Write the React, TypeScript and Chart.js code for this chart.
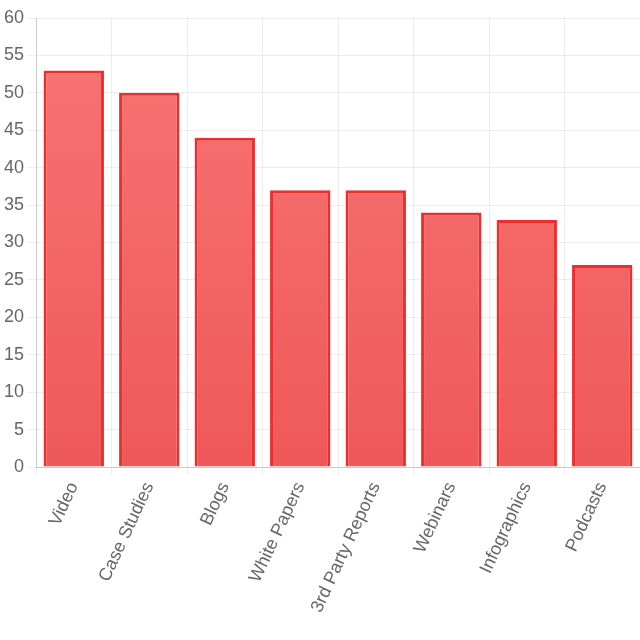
import React, { useEffect, useRef } from "react";
import { Chart, registerables } from "chart.js";

Chart.register(...registerables);

const categories = ["Video", "Case Studies", "Blogs", "White Papers", "3rd Party Reports", "Webinars", "Infographics", "Podcasts"];
const values = [53, 50, 44, 37, 37, 34, 33, 27];
const yMin = 0;
const yMax = 60;
const yStep = 5;

export default function App() {
  const ref = useRef<HTMLCanvasElement | null>(null);
  useEffect(() => {
    document.body.style.margin = "0";
    const canvas = ref.current!;
    const chart = new Chart(canvas, {
      type: "bar",
      data: {
        labels: categories,
        datasets: [
          {
            data: values,
            backgroundColor: (ctx: any) => {
              const area = ctx.chart.chartArea;
              if (!area) return "#F46666";
              const g = ctx.chart.ctx.createLinearGradient(0, area.top, 0, area.bottom);
              g.addColorStop(0, "#F87575");
              g.addColorStop(1, "#EF5858");
              return g;
            },
            borderColor: "#EE2D2D",
            borderWidth: 3,
            barPercentage: 1,
            categoryPercentage: 0.8,
          },
        ],
      },
      options: {
        animation: false,
        responsive: true,
        maintainAspectRatio: false,
        layout: { padding: { top: 18, left: 0, right: 0, bottom: 20 } },
        plugins: { legend: { display: false }, tooltip: { enabled: false } },
        scales: {
          x: {
            grid: { color: "rgba(0,0,0,0.07)", offset: true, tickLength: 8 },
            border: { color: "rgba(0,0,0,0.15)" },
            ticks: {
              color: "#666",
              padding: 4,
              font: { family: "Liberation Sans, Arial, sans-serif", size: 18 },
              maxRotation: 65,
              minRotation: 65,
            },
          },
          y: {
            min: yMin,
            max: yMax,
            grid: { color: "rgba(0,0,0,0.07)", tickLength: 8 },
            border: { color: "rgba(0,0,0,0.15)" },
            ticks: {
              stepSize: yStep,
              color: "#666",
              padding: 4,
              font: { family: "Liberation Sans, Arial, sans-serif", size: 18 },
            },
          },
        },
      },
    });
    return () => chart.destroy();
  }, []);
  return (
    <div style={{ width: 640, height: 640, position: "relative" }}>
      <canvas ref={ref} />
    </div>
  );
}
